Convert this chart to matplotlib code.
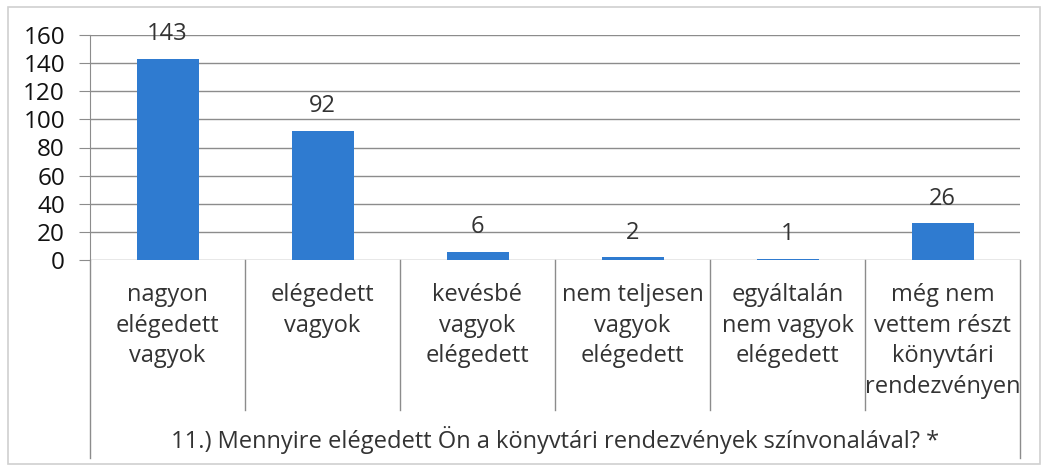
import numpy as np
import matplotlib
matplotlib.use("Agg")
import matplotlib.pyplot as plt
from matplotlib.patches import Rectangle

# data
categories = ["nagyon\nelégedett\nvagyok", "elégedett\nvagyok", "kevésbé\nvagyok\nelégedett",
              "nem teljesen\nvagyok\nelégedett", "egyáltalán\nnem vagyok\nelégedett",
              "még nem\nvettem részt\nkönyvtári\nrendezvényen"]
counts = [143, 92, 6, 2, 1, 26]
yticks = [0, 20, 40, 60, 80, 100, 120, 140, 160]
question = "11.) Mennyire elégedett Ön a könyvtári rendezvények színvonalával? *"

plt.rcParams['font.family'] = ['Open Sans', 'DejaVu Sans']
txt = '#333333'
grid = '#8c8c8c'
W, H = 1045, 471

fig = plt.figure(figsize=(W / 100, H / 100), dpi=100)
# chart border
fig.patches.append(Rectangle((8 / W, 1 - 464 / H), 1032 / W, 457 / H, transform=fig.transFigure,
                             fill=False, edgecolor='#d0d0d0', lw=1.2))

left, right, top, bot = 90, 1020, 35, 260
ax = fig.add_axes([left / W, 1 - bot / H, (right - left) / W, (bot - top) / H])
x = np.arange(len(counts))
ax.bar(x, counts, width=0.4, color='#2f7bd0', zorder=3)
ax.set_xlim(-0.5, len(counts) - 0.5)
ax.set_ylim(0, 160)
ax.set_yticks(yticks)
ax.set_yticklabels([str(v) for v in yticks], fontsize=17.5, color='#111111')
ax.yaxis.grid(True, color=grid, lw=1.0, zorder=0)
ax.tick_params(axis='y', length=8, color=grid, pad=10)
ax.set_xticks([])
for s in ['top', 'right', 'bottom']:
    ax.spines[s].set_visible(False)
ax.spines['left'].set_color(grid)

for xi, v in zip(x, counts):
    ax.annotate(str(v), (xi, v), xytext=(0, 9), textcoords='offset points',
                ha='center', va='bottom', fontsize=17, color=txt)

# table-like category axis
px = lambda py: (bot - py) / (bot - top)
tr = ax.get_xaxis_transform()
for b in np.arange(len(counts) + 1) - 0.5:
    outer = b in (-0.5, len(counts) - 0.5)
    ax.plot([b, b], [0, px(458 if outer else 410)], transform=tr, color=grid,
            lw=1.0, clip_on=False)
for xi, c in zip(x, categories):
    ax.text(xi, px(283), c, transform=tr, ha='center', va='top', fontsize=17,
            color=txt, linespacing=1.37)
ax.text((len(counts) - 1) / 2, px(440), question, transform=tr, ha='center', va='center',
        fontsize=17, color=txt)

fig.savefig('out.png', dpi=100)
